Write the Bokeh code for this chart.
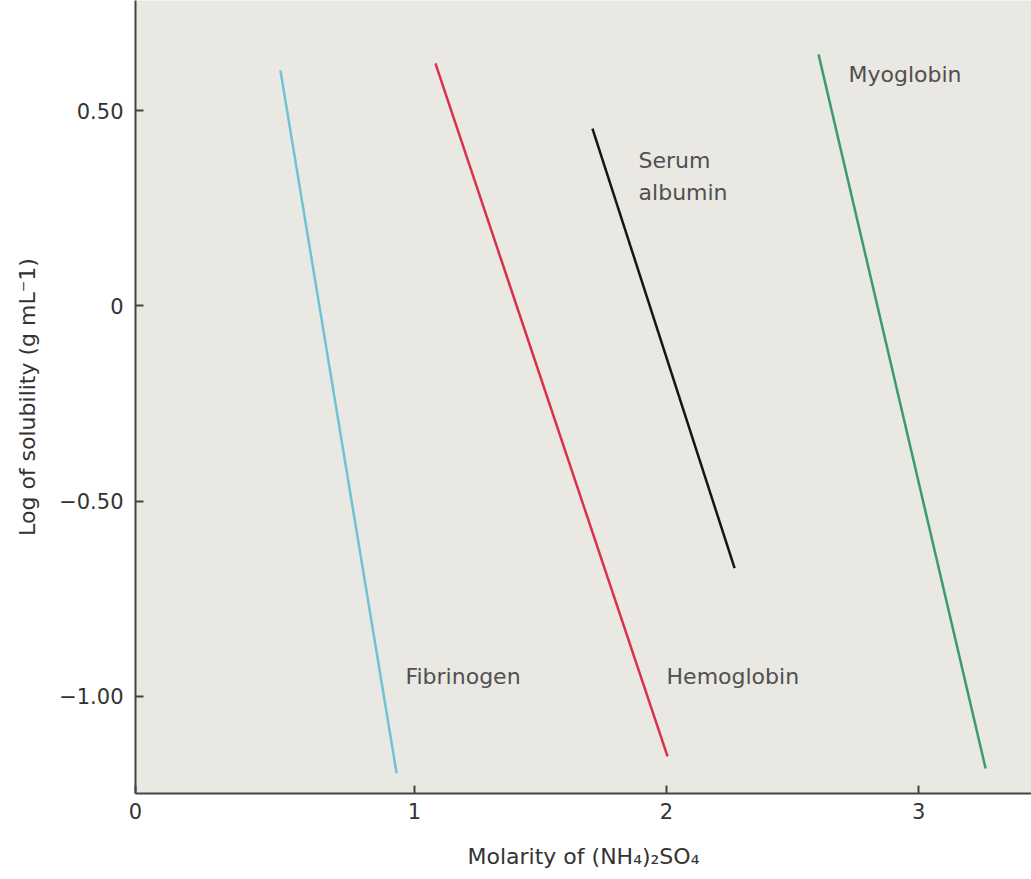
from bokeh.plotting import figure
from bokeh.models import FixedTicker, Range1d
from bokeh.core.properties import value
from bokeh.embed import file_html
from bokeh.resources import INLINE

# Data
proteins = ["Fibrinogen", "Hemoglobin", "Serum albumin", "Myoglobin"]
x_start = [0.468, 1.083, 1.706, 2.603]
y_start = [0.603, 0.621, 0.454, 0.644]
x_end = [0.929, 2.004, 2.270, 3.266]
y_end = [-1.197, -1.154, -0.672, -1.185]
colors = ["#72c2d6", "#d83248", "#151515", "#3c9a6c"]

label_text = ["Fibrinogen", "Hemoglobin", "Serum", "albumin", "Myoglobin"]
label_x = [0.964, 2.0, 1.889, 1.889, 2.722]
label_y = [-0.949, -0.949, 0.372, 0.290, 0.592]

x_ticks = [-0.107, 1, 2, 3]
x_tick_labels = ["0", "1", "2", "3"]
y_ticks = [0.5, 0.0, -0.5, -1.0]
y_tick_labels = ["0.50", "0", "\u22120.50", "\u22121.00"]

FONT = "DejaVu Sans"

p = figure(width=1031, height=879, output_backend="svg", toolbar_location=None,
           x_range=Range1d(-0.107, 3.448), y_range=Range1d(-1.249, 0.782),
           min_border_left=135, min_border_bottom=86, min_border_top=0,
           min_border_right=0)

p.background_fill_color = "#e9e8e2"
p.border_fill_color = "white"
p.outline_line_color = None
p.grid.visible = False

for xs, ys, xe, ye, c in zip(x_start, y_start, x_end, y_end, colors):
    p.line([xs, xe], [ys, ye], line_color=c, line_width=2.5)

p.text(label_x, label_y, text=label_text, text_font=value(FONT),
       text_font_size="22px", text_color="#505050",
       text_align="left", text_baseline="middle")

p.xaxis.ticker = FixedTicker(ticks=x_ticks)
p.xaxis.major_label_overrides = {t: l for t, l in zip(x_ticks, x_tick_labels)}
p.yaxis.ticker = FixedTicker(ticks=y_ticks)
p.yaxis.major_label_overrides = {t: l for t, l in zip(y_ticks, y_tick_labels)}

for ax in (p.xaxis[0], p.yaxis[0]):
    ax.axis_line_color = "#444444"
    ax.axis_line_width = 2
    ax.major_tick_in = 8
    ax.major_tick_out = 0
    ax.major_tick_line_color = "#444444"
    ax.major_tick_line_width = 2
    ax.minor_tick_line_color = None
    ax.major_label_text_font = FONT
    ax.major_label_text_font_size = "21px"
    ax.major_label_text_color = "#333333"
    ax.axis_label_text_font = FONT
    ax.axis_label_text_font_size = "22px"
    ax.axis_label_text_font_style = "normal"
    ax.axis_label_text_color = "#333333"

p.xaxis.major_label_standoff = 9
p.yaxis.major_label_standoff = 12
p.xaxis.axis_label = "Molarity of (NH\u2084)\u2082SO\u2084"
p.yaxis.axis_label = "Log of solubility (g mL\u207b1)"
p.xaxis.axis_label_standoff = 22
p.yaxis.axis_label_standoff = 16

open("out.html", "w").write(file_html(p, INLINE))
